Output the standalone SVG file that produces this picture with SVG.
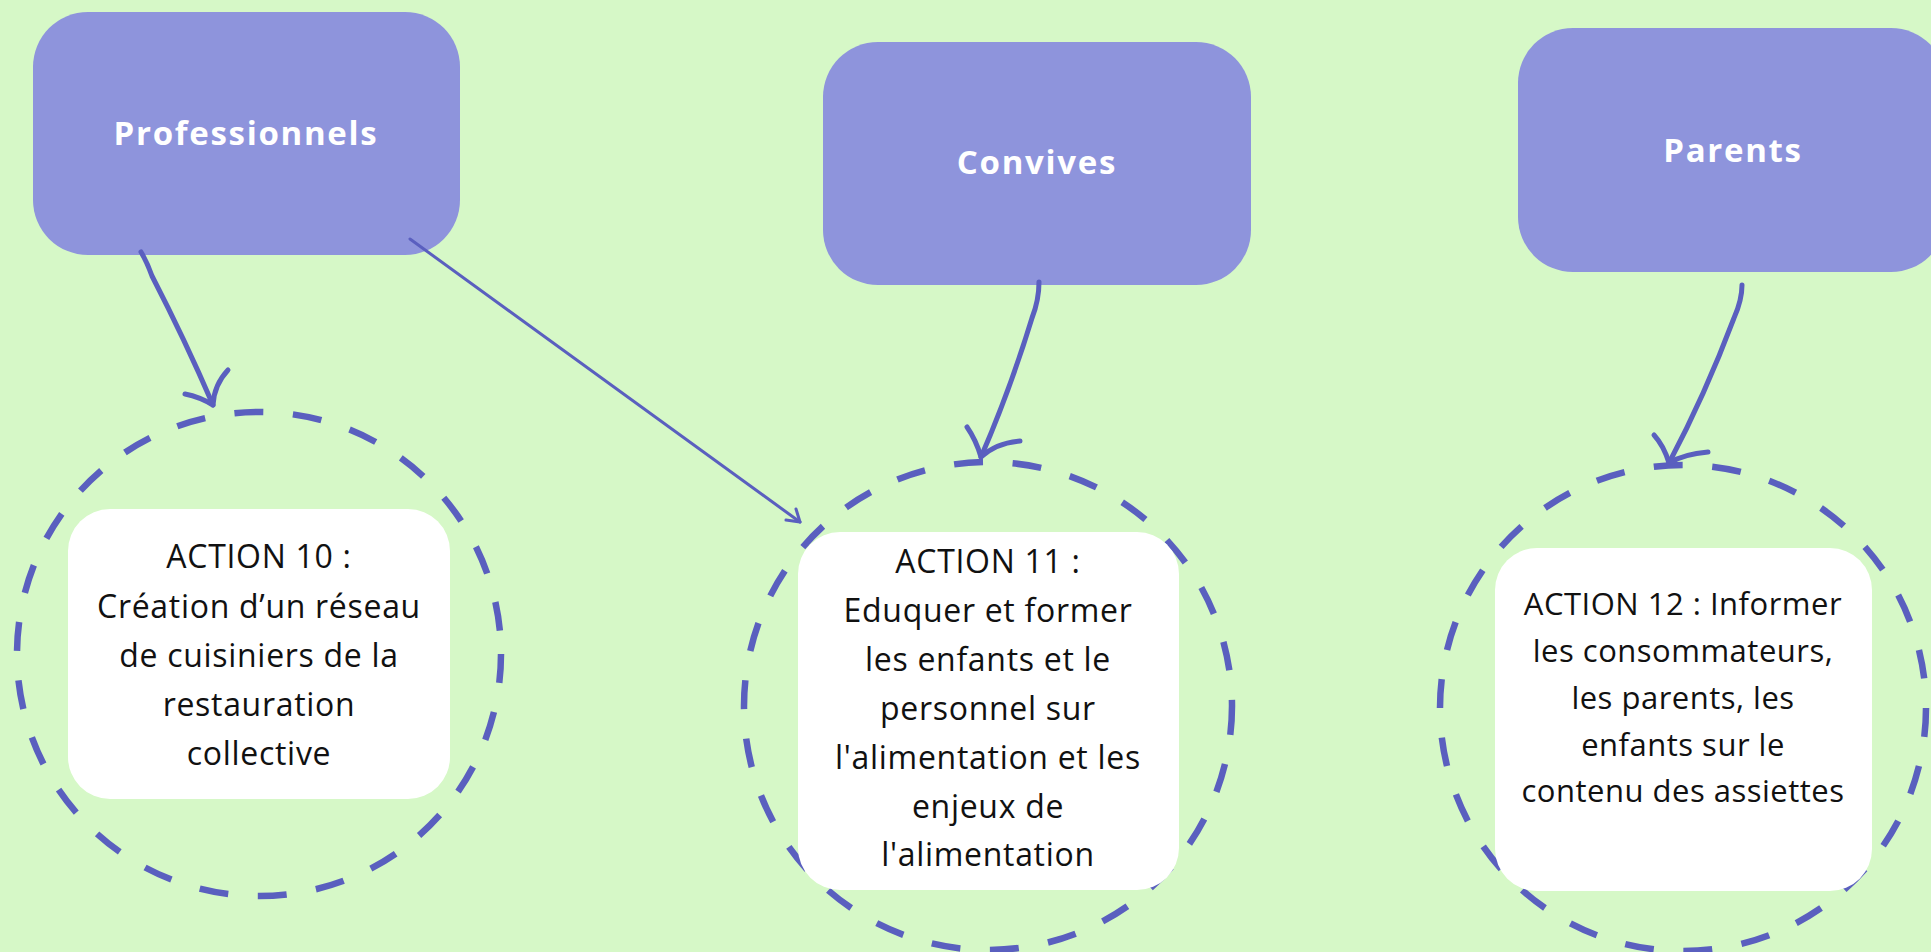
<svg xmlns="http://www.w3.org/2000/svg" width="1931" height="952" viewBox="0 0 1931 952">
<style>
.bg{fill:#d6f8c7}
.hdr{fill:#8e94dc}
.hdrt{font-family:"Open Sans","Liberation Sans",sans-serif;font-weight:700;font-size:33px;fill:#ffffff;text-anchor:middle;letter-spacing:1.7px}
.ring{fill:none;stroke:#5a5fbf;stroke-width:6.5;stroke-dasharray:29 29.7}
.card{fill:#ffffff}
.ct{font-family:"Open Sans","Noto Sans","Liberation Sans",sans-serif;font-size:32px;letter-spacing:0.7px;fill:#111111;text-anchor:middle}
.ct3{font-size:31px;letter-spacing:0.5px}
.arr{fill:none;stroke:#5a5fbf;stroke-width:5;stroke-linecap:round;stroke-linejoin:round}
.thin{fill:none;stroke:#5a5fbf;stroke-width:3;stroke-linecap:round;stroke-linejoin:round}
</style>
<rect class="bg" x="0" y="0" width="1931" height="952"/>

<g id="professionnels">
<rect class="hdr" x="33" y="12" width="427" height="243" rx="55" ry="55"/>
<text class="hdrt" x="246" y="145">Professionnels</text>
</g>
<g id="convives">
<rect class="hdr" x="823" y="42" width="428" height="243" rx="55" ry="55"/>
<text class="hdrt" x="1037" y="174">Convives</text>
</g>
<g id="parents">
<rect class="hdr" x="1518" y="28" width="428" height="244" rx="55" ry="55"/>
<text class="hdrt" x="1733" y="162">Parents</text>
</g>

<g id="action10">
<circle class="ring" cx="259" cy="654" r="242"/>
<rect class="card" x="68" y="509" width="382" height="290" rx="42" ry="42"/>
<text class="ct" x="259" y="568">ACTION 10 :</text>
<text class="ct" x="259" y="618">Création d’un réseau</text>
<text class="ct" x="259" y="667">de cuisiniers de la</text>
<text class="ct" x="259" y="716">restauration</text>
<text class="ct" x="259" y="765">collective</text>
</g>

<g id="action11">
<circle class="ring" cx="988" cy="706" r="244"/>
<rect class="card" x="798" y="532" width="381" height="358" rx="42" ry="42"/>
<text class="ct" x="988" y="573">ACTION 11 :</text>
<text class="ct" x="988" y="622">Eduquer et former</text>
<text class="ct" x="988" y="671">les enfants et le</text>
<text class="ct" x="988" y="720">personnel sur</text>
<text class="ct" x="988" y="769">l'alimentation et les</text>
<text class="ct" x="988" y="818">enjeux de</text>
<text class="ct" x="988" y="866">l'alimentation</text>
</g>

<g id="action12">
<circle class="ring" cx="1683" cy="708" r="243"/>
<rect class="card" x="1495" y="548" width="377" height="343" rx="42" ry="42"/>
<text class="ct ct3" x="1683" y="615">ACTION 12 : Informer</text>
<text class="ct ct3" x="1683" y="662">les consommateurs,</text>
<text class="ct ct3" x="1683" y="709">les parents, les</text>
<text class="ct ct3" x="1683" y="756">enfants sur le</text>
<text class="ct ct3" x="1683" y="802">contenu des assiettes</text>
</g>

<g id="connectors">
<path class="arr" d="M141 252 Q147 262 152 276 Q185 340 213 405"/>
<path class="arr" d="M185 394 Q200 397 213 405 Q214 385 228 370"/>
<path class="thin" d="M410 239 L800 522"/>
<path class="thin" d="M786 520 L800 522 L796 509"/>
<path class="arr" d="M1039 282 Q1039 300 1032 318 Q1010 390 981 457"/>
<path class="arr" d="M967 427 Q976 440 981 457 Q996 443 1020 441"/>
<path class="arr" d="M1742 285 Q1742 300 1734 318 Q1705 395 1669 463"/>
<path class="arr" d="M1654 435 Q1664 446 1669 463 Q1684 454 1708 452"/>
</g>
</svg>
